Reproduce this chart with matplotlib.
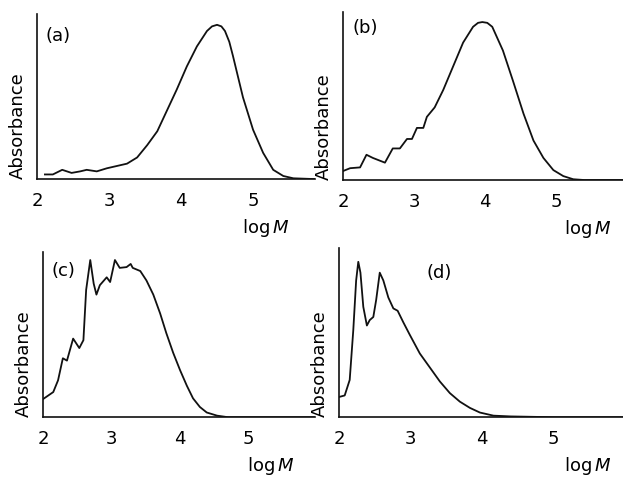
#!/usr/bin/env python3

import matplotlib
matplotlib.use("Agg")
import matplotlib.pyplot as plt

line_colour = "#111111"

# (a)
a_logm = [2.11, 2.22, 2.35, 2.48, 2.60, 2.69, 2.83, 2.97, 3.11, 3.25, 3.39, 3.53,
          3.67, 3.80, 3.94, 4.08, 4.22, 4.36, 4.43, 4.50, 4.56, 4.61, 4.67, 4.72,
          4.86, 5.00, 5.14, 5.28, 5.42, 5.56, 5.86]
a_abs = [0.03, 0.03, 0.06, 0.04, 0.05, 0.06, 0.05, 0.07, 0.085, 0.10, 0.14, 0.22,
         0.31, 0.44, 0.58, 0.73, 0.86, 0.96, 0.99, 1.00, 0.99, 0.96, 0.89, 0.80,
         0.53, 0.32, 0.17, 0.06, 0.02, 0.005, 0.0]

# (b)
b_logm = [2.00, 2.10, 2.24, 2.33, 2.42, 2.59, 2.70, 2.80, 2.90, 2.97, 3.04, 3.13,
          3.18, 3.29, 3.41, 3.55, 3.69, 3.83, 3.90, 3.96, 4.03, 4.10, 4.25, 4.39,
          4.54, 4.68, 4.82, 4.96, 5.10, 5.24, 5.40, 5.94]
b_abs = [0.057, 0.075, 0.08, 0.16, 0.14, 0.11, 0.20, 0.20, 0.26, 0.26, 0.33, 0.33,
         0.40, 0.46, 0.57, 0.72, 0.87, 0.97, 0.995, 1.00, 0.995, 0.97, 0.82, 0.63,
         0.42, 0.25, 0.14, 0.063, 0.025, 0.005, 0.0, 0.0]

# (c)
c_logm = [2.00, 2.15, 2.22, 2.29, 2.35, 2.44, 2.53, 2.59, 2.63, 2.69, 2.74, 2.78,
          2.83, 2.93, 2.98, 3.05, 3.12, 3.22, 3.28, 3.31, 3.42, 3.51, 3.61, 3.71,
          3.80, 3.90, 4.00, 4.10, 4.19, 4.29, 4.39, 4.54, 4.70, 5.97]
c_abs = [0.115, 0.16, 0.235, 0.375, 0.36, 0.50, 0.44, 0.49, 0.81, 1.00, 0.85, 0.78,
         0.84, 0.89, 0.86, 1.00, 0.95, 0.955, 0.975, 0.95, 0.93, 0.87, 0.78, 0.66,
         0.535, 0.41, 0.30, 0.20, 0.12, 0.065, 0.03, 0.01, 0.0, 0.0]

# (d)
d_logm = [2.00, 2.08, 2.15, 2.20, 2.24, 2.27, 2.30, 2.34, 2.39, 2.43, 2.48, 2.52,
          2.57, 2.62, 2.69, 2.76, 2.82, 2.90, 2.99, 3.13, 3.27, 3.41, 3.55, 3.69,
          3.83, 3.97, 4.16, 4.40, 5.00, 5.97]
d_abs = [0.13, 0.14, 0.24, 0.56, 0.88, 1.00, 0.93, 0.71, 0.59, 0.625, 0.645, 0.755,
         0.93, 0.88, 0.77, 0.70, 0.685, 0.61, 0.53, 0.41, 0.32, 0.23, 0.155, 0.10,
         0.06, 0.03, 0.01, 0.005, 0.0, 0.0]

panels = [
    ("(a)", a_logm, a_abs, [0.0594, 0.630, 0.4462, 0.341], 5.86, 1.07, (2.12, 0.93), 5.17),
    ("(b)", b_logm, b_abs, [0.5506, 0.628, 0.4494, 0.347], 5.94, 1.063, (2.13, 0.96), 5.45),
    ("(c)", c_logm, c_abs, [0.0690, 0.138, 0.4366, 0.341], 5.97, 1.05, (2.13, 0.93), 5.32),
    ("(d)", d_logm, d_abs, [0.5441, 0.138, 0.4559, 0.350], 5.97, 1.09, (3.22, 0.93), 5.47),
]

fig = plt.figure(figsize=(6.23, 4.84), dpi=100)

for label, xs, ys, rect, xmax, ymax, label_pos, logm_x in panels:
    ax = fig.add_axes(rect)
    ax.plot(xs, ys, color=line_colour, linewidth=1.3)
    ax.set_xlim(2, xmax)
    ax.set_ylim(0, ymax)
    ax.set_xticks([2, 3, 4, 5])
    ax.set_yticks([])
    ax.tick_params(axis="x", length=0, pad=9, labelsize=13)
    for side in ("top", "right"):
        ax.spines[side].set_visible(False)
    for side in ("left", "bottom"):
        ax.spines[side].set_linewidth(1.2)
        ax.spines[side].set_color(line_colour)
    ax.set_ylabel("Absorbance", fontsize=13, labelpad=7, loc="bottom")
    ax.text(label_pos[0], label_pos[1], label, fontsize=13, ha="left", va="center")
    ax.annotate(r"$\mathrm{log}\,M$", xy=(logm_x, 0), xycoords=("data", "axes fraction"),
                xytext=(0, -49), textcoords="offset pixels",
                ha="center", va="center", fontsize=13)

fig.savefig("out.png", dpi=100)
